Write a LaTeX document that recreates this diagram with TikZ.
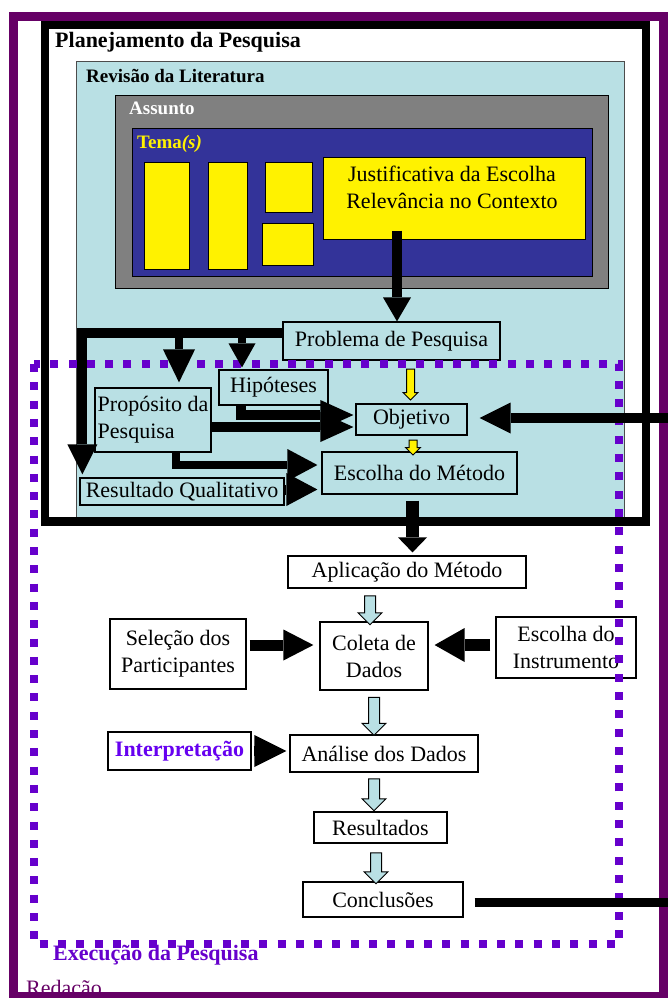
\documentclass[tikz,border=0pt]{standalone}
\usepackage{fontspec}
\setmainfont{Liberation Serif}
\usetikzlibrary{shapes.arrows, arrows.meta, calc}

\definecolor{framepurple}{RGB}{102,0,102}
\definecolor{dotviolet}{RGB}{102,0,204}
\definecolor{intviolet}{RGB}{102,0,240}
\definecolor{litblue}{RGB}{185,224,228}
\definecolor{navyblue}{RGB}{51,51,153}
\definecolor{midgray}{RGB}{128,128,128}

\tikzset{
  box/.style={draw, line width=1.2pt, inner sep=2pt, align=center, font=\fontsize{22}{27}\selectfont},
  title/.style={anchor=base west, inner sep=0pt, font=\bfseries\fontsize{22}{26}\selectfont},
  subtitle/.style={anchor=base west, inner sep=0pt, font=\bfseries\fontsize{19}{22}\selectfont},
  ybox/.style={draw, fill=yellow, line width=1pt},
  bigarrow/.style={line width=10pt},
  yarrow/.style={single arrow, draw, fill=yellow, line width=1pt, inner xsep=3.5pt, inner ysep=0pt,
    shape border rotate=270, minimum width=14pt, single arrow head extend=3.5pt},
  barrow/.style={single arrow, draw, fill=litblue, line width=1pt, inner xsep=5pt, inner ysep=0pt,
    shape border rotate=270, minimum width=23pt, single arrow head extend=6.5pt}
}

\begin{document}
\begin{tikzpicture}[x=1pt, y=-1pt]
  \useasboundingbox (0,0) rectangle (668,998);
  \fill[white] (0,0) rectangle (668,998);

  % frames and nested boxes
  \draw[framepurple, line width=9pt] (13.5,17) rectangle (663,996.5);
  \draw[gray!60!black, fill=litblue, line width=1pt] (76,62) rectangle (624,519);
  \draw[line width=8.5pt] (45,25) rectangle (646,521.5);
  \draw[fill=midgray, line width=1pt] (115,95) rectangle (608,288);
  \draw[fill=navyblue, line width=1pt] (132,128) rectangle (592,276);

  \node[title] (plan) at (55,48) {Planejamento da Pesquisa};
  \node[subtitle] (rev) at (86,82) {Revisão da Literatura};
  \node[subtitle, text=white] (ass) at (129,114) {Assunto};
  \node[subtitle, text=yellow] (tema) at (137,148) {Tema\textit{(s)}};

  % themes
  \draw[ybox] (144,162) rectangle (189,269);
  \draw[ybox] (208,162) rectangle (247,269);
  \draw[ybox] (265,162) rectangle (312,212);
  \draw[ybox] (262,223) rectangle (313,265);
  \node[ybox, minimum width=262pt, minimum height=82pt] (just) at (454,198) {};
  \node[anchor=north, inner sep=0pt, align=center, font=\fontsize{22}{27}\selectfont] (justxt) at (452,166)
    {Justificativa da Escolha\\Relevância no Contexto};

  % planning steps
  \node[box, minimum width=217pt, minimum height=38pt] (prob) at (391.5,341) {Problema de Pesquisa};
  \node[box, minimum width=109pt, minimum height=35pt] (hip) at (273.5,387.5) {Hipóteses};
  \node[box, minimum width=116pt, minimum height=64pt, align=left] (prop) at (153,420) {Propósito da\\Pesquisa};
  \node[box, minimum width=111pt, minimum height=31pt] (obj) at (411.5,419.5) {Objetivo};
  \node[box, minimum width=195pt, minimum height=42pt] (met) at (419.5,473) {Escolha do Método};
  \node[box, minimum width=204pt, minimum height=27pt] (res) at (182,491.5) {Resultado Qualitativo};

  % execution steps
  \node[box, minimum width=238pt, minimum height=32pt] (apl) at (407,572) {Aplicação do Método};
  \node[box, minimum width=136pt, minimum height=70pt] (sel) at (178,654) {Seleção dos\\Participantes};
  \node[box, minimum width=108pt, minimum height=68pt] (col) at (374,656) {Coleta de\\Dados};
  \node[box, minimum width=140pt, minimum height=61pt] (ins) at (566,647.5) {Escolha do\\Instrumento};
  \node[box, minimum width=143pt, minimum height=38pt, text=intviolet,
    font=\bfseries\fontsize{22}{27}\selectfont] (int) at (179.5,751) {Interpretação};
  \node[box, minimum width=188pt, minimum height=37pt] (ana) at (384,753.5) {Análise dos Dados};
  \node[box, minimum width=133pt, minimum height=31pt] (rsl) at (380.5,827.5) {Resultados};
  \node[box, minimum width=160pt, minimum height=35pt] (con) at (383,899.5) {Conclusões};

  % hollow block arrows
  \node[yarrow, minimum height=31pt] (ya1) at (410.5,382.5) {};
  \node[yarrow, minimum height=15pt] (ya2) at (413,445.5) {};
  \node[barrow, minimum height=29pt] (ba1) at (370,607.5) {};
  \node[barrow, minimum height=38pt] (ba2) at (374,713.5) {};
  \node[barrow, minimum height=32pt] (ba3) at (374,792) {};
  \node[barrow, minimum height=31pt] (ba4) at (376,865.5) {};

  % execution area
  \draw[dotviolet, line width=7.5pt, dash pattern=on 8pt off 10.3pt] (34,364) rectangle (619,944);
  \node[title, text=dotviolet] (exec) at (53,960) {Execução da Pesquisa};
  \node[anchor=base west, inner sep=0pt, text=framepurple, font=\fontsize{22}{26}\selectfont] (red) at (26,995) {Redação};

  % black arrows
  \draw[bigarrow, -{Triangle[length=24pt, width=28pt, line width=0pt]}]
    ($(just.south)+(-57,-9)$) -- ($(prob.north)+(5.5,0)$);
  \draw[bigarrow, -{Triangle[length=30pt, width=30pt, line width=0pt]}, shorten >=3pt]
    ($(prob.west)+(0,-8)$) -| ($(res.north west)+(3,0)$);
  \draw[bigarrow, line width=8pt, -{Triangle[length=33pt, width=32pt, line width=0pt]}]
    ($(prop.north)+(26,-55)$) -- ($(prop.north)+(26,-5)$);
  \draw[bigarrow, line width=8pt, -{Triangle[length=24pt, width=27pt, line width=0pt]}]
    ($(hip.north)+(-31.5,-37)$) -- ($(hip.north)+(-31.5,-2)$);
  \draw[bigarrow, -{Triangle[length=33pt, width=30pt, line width=0pt]}]
    ($(hip.south)+(-33,0)$) |- ($(obj.west)+(-2,-4.5)$);
  \draw[bigarrow, -{Triangle[length=33pt, width=30pt, line width=0pt]}]
    ($(prop.east)+(0,7)$) -- ($(obj.west)+(-2,7.5)$);
  \draw[bigarrow, line width=8pt, -{Triangle[length=30pt, width=32pt, line width=0pt]}]
    ($(prop.south)+(23,0)$) |- ($(met.west)+(-4,-8)$);
  \draw[bigarrow, -{Triangle[length=31pt, width=33pt, line width=0pt]}]
    ($(res.east)+(0,-2)$) -- ($(met.west)+(-4,16.5)$);

  % loop back from the conclusions
  \coordinate (loopin) at (668,418);
  \coordinate (loopout) at (668,902);
  \draw[bigarrow, -{Triangle[length=31pt, width=31pt, line width=0pt]}]
    (loopin) -- ($(obj.east)+(12,-1.5)$);
  \draw[bigarrow, line width=9pt] ($(con.east)+(11,2.5)$) -- (loopout);

  \draw[bigarrow, line width=13pt, -{Triangle[length=15pt, width=29pt, line width=0pt]}]
    ($(met.south)+(-7,6)$) -- ($(apl.north)+(5.5,-3)$);
  \draw[bigarrow, line width=11pt, -{Triangle[length=30pt, width=31pt, line width=0pt]}]
    ($(sel.east)+(3,-9)$) -- ($(col.west)+(-6,-11)$);
  \draw[bigarrow, line width=12pt, -{Triangle[length=30pt, width=34pt, line width=0pt]}]
    ($(ins.west)+(-5,-2.5)$) -- ($(col.east)+(6,-11)$);
  \draw[bigarrow, -{Triangle[length=32pt, width=32pt, line width=0pt]}]
    ($(int.east)+(2,0)$) -- ($(ana.west)+(-3,-2.5)$);
\end{tikzpicture}
\end{document}
